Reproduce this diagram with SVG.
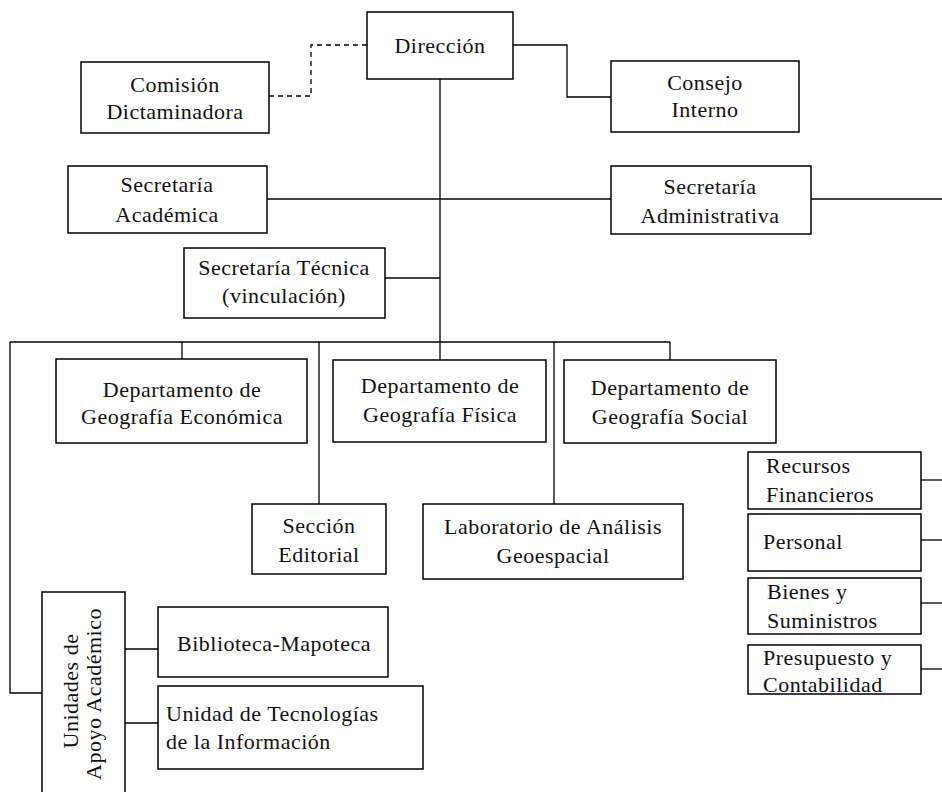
<svg xmlns="http://www.w3.org/2000/svg" width="942" height="792" viewBox="0 0 942 792">
<style>
.b{fill:#fff;stroke:#000;stroke-width:1.5}
.c{fill:none;stroke:#000;stroke-width:1.3}
.d{fill:none;stroke:#000;stroke-width:1.3;stroke-dasharray:5 4}
text{font-family:"Liberation Serif","Times New Roman",serif;font-size:22px;letter-spacing:0.5px;fill:#111;text-anchor:middle}
.l{text-anchor:start}
</style>
<rect width="942" height="792" fill="#fff"/>
<g id="connectors">
<path class="d" d="M269 96 H311 V45 H367"/>
<path class="c" d="M513 45 H567 V97 H611"/>
<path class="c" d="M440 79 V342"/>
<path class="c" d="M267 199 H611"/>
<path class="c" d="M811 199 H942"/>
<path class="c" d="M385 278 H440"/>
<path class="c" d="M10 342 H670"/>
<path class="c" d="M182 342 V359"/>
<path class="c" d="M440 342 V360"/>
<path class="c" d="M670 342 V360"/>
<path class="c" d="M319 342 V504"/>
<path class="c" d="M554 342 V504"/>
<path class="c" d="M10 342 V693 H42"/>
<path class="c" d="M125 649 H158"/>
<path class="c" d="M125 723 H158"/>
<path class="c" d="M921 480 H942"/>
<path class="c" d="M921 540 H942"/>
<path class="c" d="M921 603 H942"/>
<path class="c" d="M921 669 H942"/>
</g>
<g id="direccion"><rect class="b" x="367" y="12" width="146" height="67"/><text x="440" y="53">Dirección</text></g>
<g id="comision"><rect class="b" x="81" y="62" width="188" height="71"/><text x="175" y="92">Comisión</text><text x="175" y="119">Dictaminadora</text></g>
<g id="consejo"><rect class="b" x="611" y="61" width="188" height="71"/><text x="705" y="90">Consejo</text><text x="705" y="117">Interno</text></g>
<g id="sec-academica"><rect class="b" x="68" y="166" width="199" height="67"/><text x="167" y="192">Secretaría</text><text x="167" y="222">Académica</text></g>
<g id="sec-administrativa"><rect class="b" x="611" y="166" width="200" height="68"/><text x="710" y="194">Secretaría</text><text x="710" y="223">Administrativa</text></g>
<g id="sec-tecnica"><rect class="b" x="184" y="248" width="201" height="70"/><text x="284" y="275">Secretaría Técnica</text><text x="284" y="303">(vinculación)</text></g>
<g id="dep-economica"><rect class="b" x="56" y="359" width="251" height="84"/><text x="182" y="397">Departamento de</text><text x="182" y="424">Geografía Económica</text></g>
<g id="dep-fisica"><rect class="b" x="333" y="360" width="213" height="82"/><text x="440" y="393">Departamento de</text><text x="440" y="422">Geografía Física</text></g>
<g id="dep-social"><rect class="b" x="564" y="360" width="212" height="83"/><text x="670" y="395">Departamento de</text><text x="670" y="424">Geografía Social</text></g>
<g id="seccion-editorial"><rect class="b" x="252" y="504" width="134" height="70"/><text x="319" y="533">Sección</text><text x="319" y="562">Editorial</text></g>
<g id="laboratorio"><rect class="b" x="423" y="504" width="260" height="75"/><text x="553" y="534">Laboratorio de Análisis</text><text x="553" y="563">Geoespacial</text></g>
<g id="recursos"><rect class="b" x="748" y="452" width="173" height="57"/><text class="l" x="766" y="473">Recursos</text><text class="l" x="766" y="502">Financieros</text></g>
<g id="personal"><rect class="b" x="748" y="514" width="173" height="57"/><text class="l" x="763" y="549">Personal</text></g>
<g id="bienes"><rect class="b" x="748" y="578" width="173" height="56"/><text class="l" x="767" y="599">Bienes y</text><text class="l" x="767" y="628">Suministros</text></g>
<g id="presupuesto"><rect class="b" x="748" y="645" width="173" height="49"/><text class="l" x="763" y="665">Presupuesto y</text><text class="l" x="763" y="692">Contabilidad</text></g>
<g id="unidades-apoyo"><rect class="b" x="42" y="592" width="83" height="210"/><text transform="translate(78,691) rotate(-90)">Unidades de</text><text transform="translate(101,694) rotate(-90)">Apoyo Académico</text></g>
<g id="biblioteca"><rect class="b" x="158" y="607" width="230" height="70"/><text x="274" y="651">Biblioteca-Mapoteca</text></g>
<g id="unidad-ti"><rect class="b" x="158" y="686" width="265" height="83"/><text class="l" x="166" y="721">Unidad de Tecnologías</text><text class="l" x="166" y="749">de la Información</text></g>
</svg>
